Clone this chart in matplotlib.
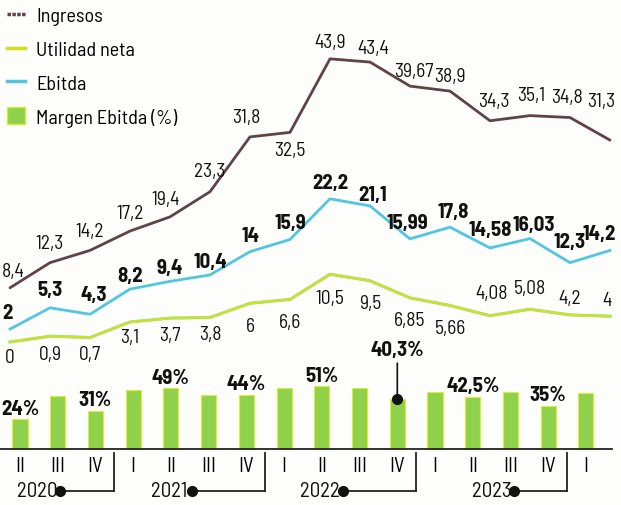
import matplotlib
matplotlib.use("Agg")
import matplotlib.pyplot as plt
from matplotlib.lines import Line2D
from matplotlib.patches import Patch

# ---------------- data ----------------
quarters = ["II", "III", "IV", "I", "II", "III", "IV", "I", "II", "III", "IV",
            "I", "II", "III", "IV", "I"]
years = ["2020", "2021", "2022", "2023"]
ingresos = [8.4, 12.3, 14.2, 17.2, 19.4, 23.3, 31.8, 32.5, 43.9, 43.4, 39.67,
            38.9, 34.3, 35.1, 34.8, 31.3]
ebitda = [2, 5.3, 4.3, 8.2, 9.4, 10.4, 14, 15.9, 22.2, 21.1, 15.99, 17.8,
          14.58, 16.03, 12.3, 14.2]
utilidad = [0, 0.9, 0.7, 3.1, 3.7, 3.8, 6, 6.6, 10.5, 9.5, 6.85, 5.66, 4.08,
            5.08, 4.2, 4]
margen = [24, 43, 31, 48, 49, 44, 44, 49, 51, 49, 40.3, 46, 42.5, 46, 35, 45]
margen_labels = {0: "24%", 2: "31%", 4: "49%", 6: "44%", 8: "51%",
                 10: "40,3%", 12: "42,5%", 14: "35%"}

def fmt(v):
    return ("%g" % v).replace(".", ",")

# ---------------- style ----------------
plt.rcParams["font.family"] = ["Barlow Semi Condensed", "DejaVu Sans"]

C_ING = "#5e4446"
C_EBI = "#52c6df"
C_UTI = "#cfe21c"
C_BAR = "#8fd14a"
C_TXT = "#111111"

W, H = 621, 506
fig = plt.figure(figsize=(W / 100, H / 100), dpi=100)
fig.patch.set_facecolor("#fdfdfb")

def px_axes(x0, y0, x1, y1):
    return fig.add_axes([x0 / W, 1 - y1 / H, (x1 - x0) / W, (y1 - y0) / H])

# ---------------- line axes ----------------
ax = px_axes(0, 0, W, 360)
ax.set_facecolor("none")
n = len(ingresos)
xs = list(range(n))
ax.set_xlim(-10 / 40, (W - 10) / 40)
ppu = 6.45
ax.set_ylim(-(360 - 343) / ppu, 343 / ppu)
ax.axis("off")

ax.plot(xs, ingresos, color=C_ING, lw=2.0, solid_capstyle="round")
ax.plot(xs, ebitda, color=C_EBI, lw=2.0)
ax.plot(xs, utilidad, color="#7fd6e6", lw=2.2)
ax.plot(xs, utilidad, color=C_UTI, lw=1.8)

ing_off = [(2, 12), (0, 14), (0, 14), (0, 13), (-3, 13), (0, 15), (-3, 14),
           (0, -13), (0, 12), (2, 10), (3, 11), (0, 11), (3, 14), (1, 15),
           (-2, 15), (-6, 28)]
ebi_off = [(-2, 12), (0, 13), (3, 14), (0, 10), (0, 10), (0, 10), (0, 12),
           (0, 12), (0, 12), (2, 8), (-2, 12), (2, 11), (0, 13), (3, 10),
           (0, 15), (-8, 12)]
uti_off = [(0, -11), (0, -13), (0, -12), (0, -11), (0, -12), (0, -12),
           (0, -16), (0, -16), (0, -17), (0, -16), (0, -16), (0, -16),
           (1, 16), (0, 15), (0, 12), (-2, 12)]

for i in xs:
    dx, dy = ing_off[i]
    ax.annotate(fmt(ingresos[i]), (i, ingresos[i]), xytext=(dx, dy),
                textcoords="offset points", ha="center", va="center",
                fontsize=14, color=C_TXT)
    dx, dy = ebi_off[i]
    ax.annotate(fmt(ebitda[i]), (i, ebitda[i]), xytext=(dx, dy),
                textcoords="offset points", ha="center", va="center",
                fontsize=15, fontweight="bold", color=C_TXT)
    dx, dy = uti_off[i]
    ax.annotate(fmt(utilidad[i]), (i, utilidad[i]), xytext=(dx, dy),
                textcoords="offset points", ha="center", va="center",
                fontsize=14, color=C_TXT)

# legend
handles = [Line2D([], [], color=C_ING, lw=2.5, ls=(0, (1, 0.4))),
           Line2D([], [], color=C_UTI, lw=2.5),
           Line2D([], [], color=C_EBI, lw=2.5),
           Patch(facecolor=C_BAR, edgecolor="#d8ec3a")]
fig.legend(handles, ["Ingresos", "Utilidad neta", "Ebitda", "Margen Ebitda (%)"],
           loc="upper left", bbox_to_anchor=(0.0, 1.0), frameon=False,
           fontsize=14.5, handlelength=0.9, handleheight=0.9,
           handletextpad=0.55, labelspacing=0.72, borderaxespad=0.1,
           borderpad=0.25)

# ---------------- bar axes ----------------
bx = px_axes(0, 340, W, 450)
bx.set_facecolor("none")
step = 37.73
bx.set_xlim(-20 / step, (W - 20) / step)
bppu = 1.235
bx.set_ylim(0, 110 / bppu)
bx.bar(xs, margen, width=0.40, color=C_BAR, edgecolor="#dcee3c", lw=0.8)
for s in ["top", "right", "left"]:
    bx.spines[s].set_visible(False)
bx.spines["bottom"].set_color("#222222")
bx.spines["bottom"].set_linewidth(1.3)
bx.spines["bottom"].set_bounds(bx.get_xlim()[0], 15.7)
bx.set_yticks([])
bx.set_xticks(xs)
bx.set_xticklabels(quarters, fontsize=15)
bx.tick_params(axis="x", length=0, pad=5)

for i, lab in margen_labels.items():
    if i == 10:
        bx.annotate(lab, (i, margen[i]), xytext=(0, 29), textcoords="offset points",
                    ha="center", va="bottom", fontsize=15, fontweight="bold",
                    color=C_TXT,
                    arrowprops=dict(arrowstyle="-", color="#111111", lw=1.2,
                                    shrinkA=1, shrinkB=0))
        bx.plot([i], [margen[i]], "o", color="#111111", ms=7, zorder=5,
                clip_on=False)
    else:
        bx.annotate(lab, (i, margen[i]), xytext=(0, 1), textcoords="offset points",
                    ha="center", va="bottom", fontsize=15, fontweight="bold",
                    color=C_TXT)

# year brackets
yx = px_axes(0, 450, W, H)
yx.set_xlim(bx.get_xlim())
yx.set_ylim(H - 450, 0)
yx.axis("off")
boundaries = [2.5, 6.5, 10.5, 14.5]
year_dot = [1.05, 4.55, 8.55, 13.1]
year_txt = [0.45, 3.95, 7.95, 12.5]
for b, d, t, yr in zip(boundaries, year_dot, year_txt, years):
    yx.plot([b, b], [4, 42], color="#222222", lw=1.3)
    yx.plot([d, b], [42, 42], color="#222222", lw=1.3)
    yx.plot([d], [42], "o", color="#111111", ms=7)
    yx.text(t, 42, yr, ha="center", va="center", fontsize=15, color=C_TXT)

fig.savefig("out.png", dpi=100, facecolor=fig.get_facecolor())
